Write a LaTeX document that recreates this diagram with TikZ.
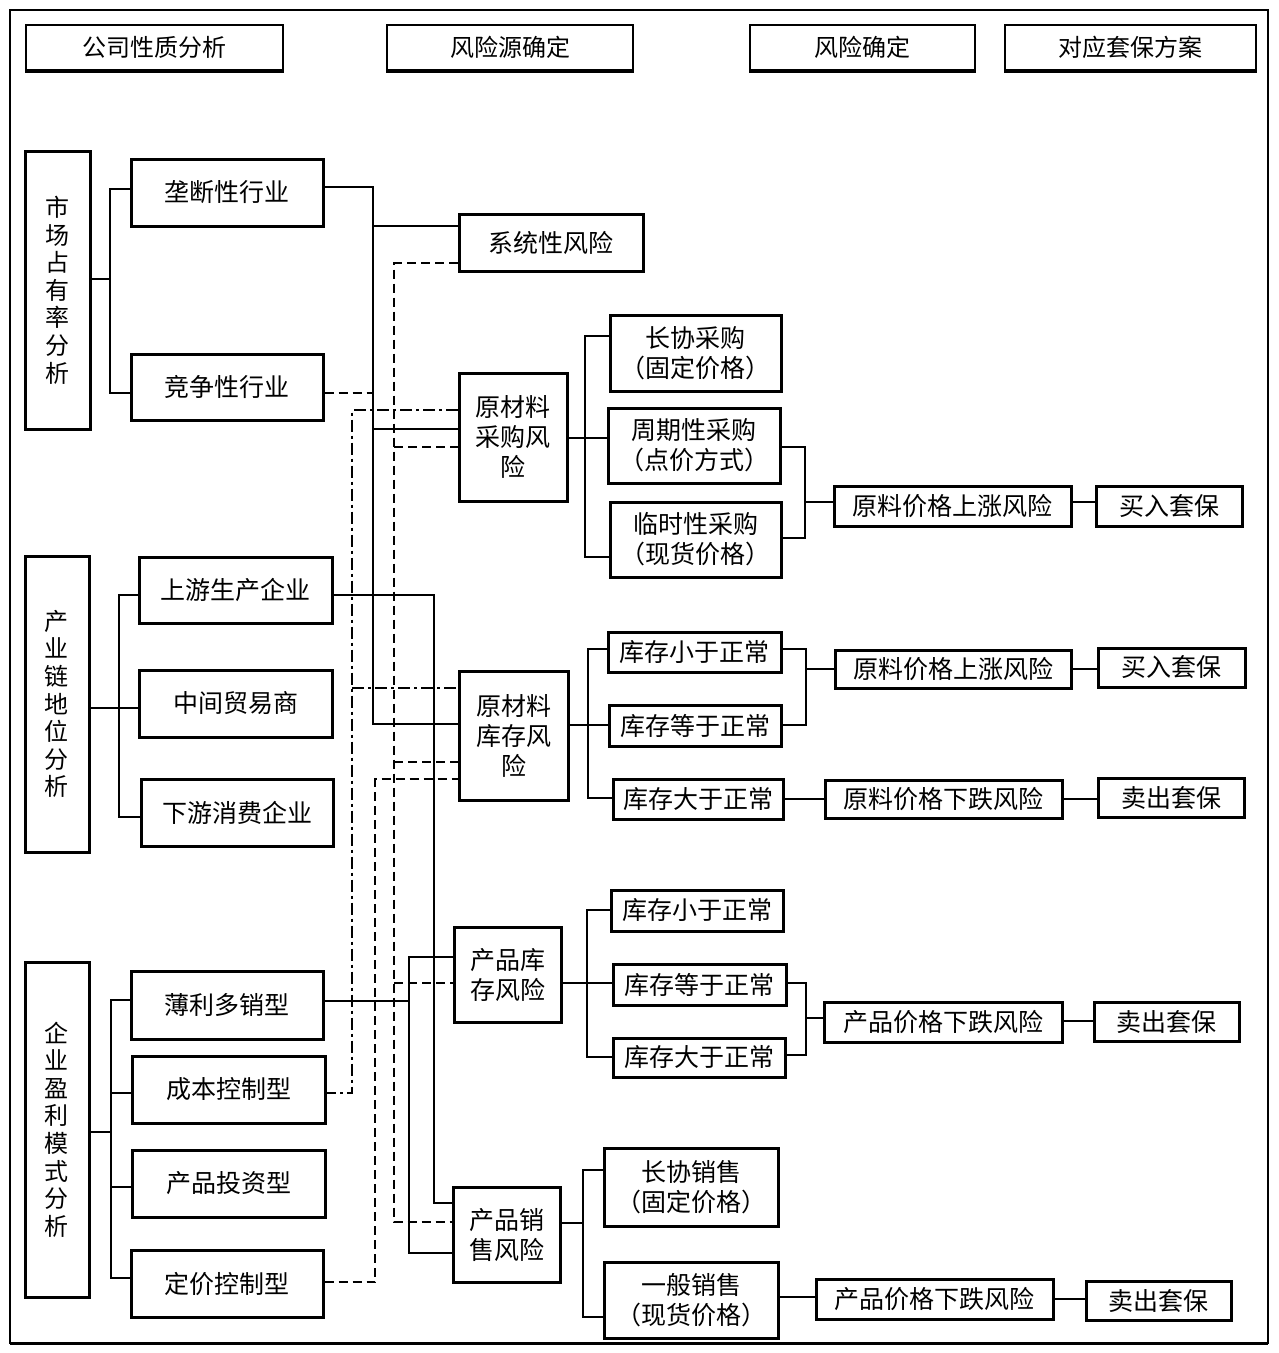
\documentclass[tikz,border=0pt]{standalone}
\usepackage{fontspec}
\setmainfont{Noto Sans CJK SC}
\tikzset{
  box/.style={draw, line width=3pt, inner sep=0pt, align=center, font=\fontsize{25pt}{30pt}\selectfont},
  vbox/.style={box, font=\fontsize{24pt}{27.6pt}\selectfont},
  hdr/.style={draw, line width=1.5pt, inner sep=0pt, align=center, font=\fontsize{24pt}{29pt}\selectfont},
  conn/.style={line width=2.4pt},
  dsh/.style={line width=2.4pt, dash pattern=on 9pt off 5pt},
  ddot/.style={line width=2.4pt, dash pattern=on 12pt off 4pt on 3pt off 4pt},
}
\newcommand\mybox[7][box]{%
  \pgfmathsetmacro\bw{#5-#3}\pgfmathsetmacro\bh{#6-#4}%
  \pgfmathsetmacro\bcx{(#3+#5)/2}\pgfmathsetmacro\bcy{(#4+#6)/2}%
  \node[#1, minimum width=\bw pt, minimum height=\bh pt] (#2) at (\bcx,\bcy) {#7};}
\begin{document}
\begin{tikzpicture}[x=1pt,y=-1pt]
\useasboundingbox (0,0) rectangle (1279,1353);
\fill[white] (0,0) rectangle (1279,1353);
% frame
\draw[line width=1.5pt] (10,10) rectangle (1268,1343);
\draw[line width=3pt] (10,1343) -- (1268,1343);
% headers
\mybox[hdr]{h1}{26}{25}{283}{70}{公司性质分析}
\mybox[hdr]{h2}{387}{25}{633}{70}{风险源确定}
\mybox[hdr]{h3}{750}{25}{975}{70}{风险确定}
\mybox[hdr]{h4}{1005}{25}{1256}{70}{对应套保方案}
\foreach \h in {h1,h2,h3,h4}{\draw[line width=3.5pt] (\h.south west) -- (\h.south east);}
% column 1
\mybox[vbox]{c1}{25}{151}{90}{429}{市\\场\\占\\有\\率\\分\\析}
\mybox[vbox]{c2}{25}{556}{89}{852}{产\\业\\链\\地\\位\\分\\析}
\mybox[vbox]{c3}{25}{962}{89}{1297}{企\\业\\盈\\利\\模\\式\\分\\析}
% column 2
\mybox{m1}{131}{159}{323}{226}{垄断性行业}
\mybox{m2}{131}{354}{323}{420}{竞争性行业}
\mybox{u1}{139}{557}{332}{623}{上游生产企业}
\mybox{u2}{139}{670}{332}{737}{中间贸易商}
\mybox{u3}{141}{779}{333}{846}{下游消费企业}
\mybox{p1}{131}{971}{323}{1039}{薄利多销型}
\mybox{p2}{132}{1056}{325}{1123}{成本控制型}
\mybox{p3}{132}{1150}{325}{1217}{产品投资型}
\mybox{p4}{131}{1250}{323}{1317}{定价控制型}
% column 3
\mybox{r1}{459}{214}{643}{271}{系统性风险}
\mybox{r2}{459}{373}{567}{501}{原材料\\采购风\\险}
\mybox{r3}{459}{671}{568}{800}{原材料\\库存风\\险}
\mybox{r4}{454}{927}{561}{1022}{产品库\\存风险}
\mybox{r5}{453}{1187}{560}{1282}{产品销\\售风险}
% column 4
\mybox{a1}{610}{315}{781}{391}{长协采购\\（固定价格）}
\mybox{a2}{608}{408}{780}{483}{周期性采购\\（点价方式）}
\mybox{a3}{610}{502}{781}{577}{临时性采购\\（现货价格）}
\mybox{b1}{608}{632}{781}{672}{库存小于正常}
\mybox{b2}{609}{705}{781}{746}{库存等于正常}
\mybox{b3}{613}{779}{783}{819}{库存大于正常}
\mybox{d1}{611}{890}{783}{931}{库存小于正常}
\mybox{d2}{613}{964}{786}{1005}{库存等于正常}
\mybox{d3}{613}{1038}{785}{1077}{库存大于正常}
\mybox{e1}{604}{1148}{778}{1226}{长协销售\\（固定价格）}
\mybox{e2}{604}{1262}{778}{1338}{一般销售\\（现货价格）}
% column 5
\mybox{f1}{834}{486}{1071}{526}{原料价格上涨风险}
\mybox{f2}{835}{650}{1071}{688}{原料价格上涨风险}
\mybox{f3}{825}{780}{1062}{818}{原料价格下跌风险}
\mybox{f4}{824}{1002}{1062}{1042}{产品价格下跌风险}
\mybox{f5}{816}{1279}{1053}{1319}{产品价格下跌风险}
% column 6
\mybox{g1}{1096}{486}{1242}{526}{买入套保}
\mybox{g2}{1098}{648}{1245}{687}{买入套保}
\mybox{g3}{1098}{778}{1244}{817}{卖出套保}
\mybox{g4}{1094}{1002}{1239}{1041}{卖出套保}
\mybox{g5}{1086}{1281}{1231}{1320}{卖出套保}
% left brackets
\coordinate (k1) at (110,279);
\draw[conn] (c1.east |- k1) -- (k1);
\draw[conn] (m1.west |- 0,189) -| (k1) |- (m2.west |- 0,393);
\coordinate (k2) at (119,708);
\draw[conn] (c2.east |- k2) -- (k2) -- (u2.west |- k2);
\draw[conn] (u1.west |- 0,595) -| (k2) |- (u3.west |- 0,817);
\coordinate (k3) at (111,1132);
\draw[conn] (c3.east |- k3) -- (k3);
\draw[conn] (p1.west |- 0,1000) -| (k3) |- (p4.west |- 0,1278);
\draw[conn] (k3 |- 0,1093) -- (p2.west |- 0,1093);
\draw[conn] (k3 |- 0,1187) -- (p3.west |- 0,1187);
% middle solid
\coordinate (s1) at (373,187); \coordinate (s1b) at (373,724);
\draw[conn] (m1.east |- s1) -- (s1) -- (s1b) -- (r3.west |- s1b);
\draw[conn] (s1 |- 0,226) -- (r1.west |- 0,226);
\draw[conn] (s1 |- 0,429) -- (r2.west |- 0,429);
\coordinate (s2) at (434,595); \coordinate (s2b) at (434,1203);
\draw[conn] (u1.east |- s2) -- (s2) -- (s2b) -- (r5.west |- s2b);
\coordinate (s3) at (409,1001);
\draw[conn] (p1.east |- s3) -- (s3);
\draw[conn] (r4.west |- 0,957) -| (s3) |- (r5.west |- 0,1253);
% dashed
\coordinate (d0) at (373,393);
\draw[dsh] (m2.east |- d0) -- (d0);
\coordinate (dt) at (394,263); \coordinate (db) at (394,1222);
\draw[dsh] (r1.west |- dt) -- (dt) -- (db) -- (r5.west |- db);
\draw[dsh] (dt |- 0,447) -- (r2.west |- 0,447);
\draw[dsh] (dt |- 0,762) -- (r3.west |- 0,762);
\draw[dsh] (dt |- 0,983) -- (r4.west |- 0,983);
\coordinate (q1) at (375,1282); \coordinate (q2) at (375,779);
\draw[dsh] (p4.east |- q1) -- (q1) -- (q2) -- (r3.west |- q2);
% dash-dot
\coordinate (t1) at (352,410); \coordinate (t2) at (352,1093);
\draw[ddot] (r2.west |- t1) -- (t1) -- (t2) -- (p2.east |- t2);
\draw[ddot] (t1 |- 0,688) -- (r3.west |- 0,688);
% right side: purchase
\coordinate (v1) at (585,438);
\draw[conn] (r2.east |- v1) -- (v1) -- (a2.west |- v1);
\draw[conn] (a1.west |- 0,336) -| (v1) |- (a3.west |- 0,557);
\coordinate (w1) at (805,502);
\draw[conn] (a2.east |- 0,447) -| (w1) |- (a3.east |- 0,538);
\draw[conn] (w1) -- (f1.west |- w1);
\draw[conn] (f1.east |- w1) -- (g1.west |- w1);
% raw inventory
\coordinate (v2) at (588,725);
\draw[conn] (r3.east |- v2) -- (v2) -- (b2.west |- v2);
\draw[conn] (b1.west |- 0,649) -| (v2) |- (b3.west |- 0,798);
\coordinate (w2) at (806,669);
\draw[conn] (b1.east |- 0,649) -| (w2) |- (b2.east |- 0,725);
\draw[conn] (w2) -- (f2.west |- w2);
\draw[conn] (f2.east |- w2) -- (g2.west |- w2);
\draw[conn] (b3.east |- 0,799) -- (f3.west |- 0,799);
\draw[conn] (f3.east |- 0,799) -- (g3.west |- 0,799);
% product inventory
\coordinate (v3) at (587,983);
\draw[conn] (r4.east |- v3) -- (v3) -- (d2.west |- v3);
\draw[conn] (d1.west |- 0,910) -| (v3) |- (d3.west |- 0,1057);
\coordinate (w3) at (806,1018);
\draw[conn] (d2.east |- 0,983) -| (w3) |- (d3.east |- 0,1055);
\draw[conn] (w3) -- (f4.west |- w3);
\draw[conn] (f4.east |- 0,1021) -- (g4.west |- 0,1021);
% product sales
\coordinate (v4) at (583,1223);
\draw[conn] (r5.east |- v4) -- (v4);
\draw[conn] (e1.west |- 0,1170) -| (v4) |- (e2.west |- 0,1317);
\draw[conn] (e2.east |- 0,1297) -- (f5.west |- 0,1297);
\draw[conn] (f5.east |- 0,1299) -- (g5.west |- 0,1299);
\end{tikzpicture}
\end{document}
